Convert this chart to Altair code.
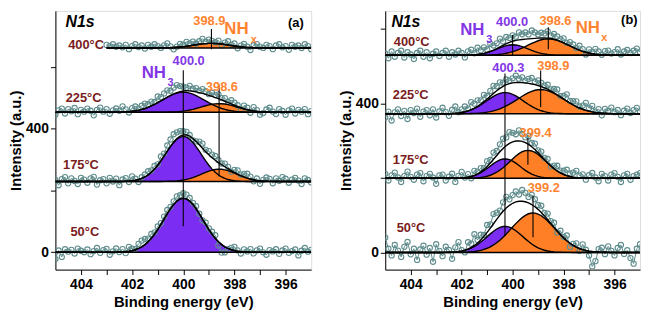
import altair as alt
import pandas as pd
import numpy as np

# ---------------- data ----------------
energy = [round(405 - 0.125 * i, 3) for i in range(81)]
specs = ["50°C", "175°C", "225°C", "400°C"]

# panel (a)
a_base = {"50°C": 0, "175°C": 229, "225°C": 453, "400°C": 661}
a_start = {"50°C": 405, "175°C": 405, "225°C": 405, "400°C": 403.0}
a_peaks = [
    ("50°C", "NH3", 400.0, 175, 0.76),
    ("175°C", "NH3", 400.0, 146, 0.70),
    ("175°C", "NHx", 398.6, 40, 0.68),
    ("225°C", "NH3", 400.0, 65, 0.82),
    ("225°C", "NHx", 398.6, 28, 0.70),
    ("400°C", "NHx", 398.9, 15, 0.70),
]
a_noise = {
    "50°C": [-22, 6, -15, 10, 2, 8, -4, 12, 5, 0,
             9, -6, 4, 14, -2, 7, 11, -8, 3, 12,
             0, 9, -5, 14, 6, 2, 15, 20, 18, 10,
             14, 6, 10, 4, 8, 12, 6, 10, 15, 12,
             16, 14, 10, 5, 8, 0, -4, 6, 4, 8,
             10, -12, -26, -18, -2, 6, 12, 3, -6, 8,
             2, 10, -4, 6, 12, 0, -8, 7, 3, 10,
             -5, 6, 12, -2, 4, 9, -10, 5, 14, 2,
             8],
    "175°C": [5, -12, 8, 14, -6, 10, 2, -8, 12, 6,
              -4, 10, 15, -10, 4, 8, -6, 12, 0, 9,
              -12, 6, 10, -3, 14, 5, -8, 4, 8, 12,
              6, 10, 3, 14, 8, 18, 22, 25, 20, 16,
              12, 10, 4, -6, 0, 10, 15, 6, 12, 10,
              14, 8, 4, 10, 6, -4, 8, 12, 3, 10,
              14, 8, -5, 6, -10, 4, 12, 8, -6, 10,
              2, 14, 9, -4, 6, 12, 3, -8, 10, 5,
              -3],
    "225°C": [-8, 6, 12, -4, 10, 3, 14, -6, 8, 2,
              12, 5, -10, 8, 15, 2, 10, -5, 6, 12,
              4, 18, 8, -3, 10, 14, 6, 12, 16, 10,
              14, 8, 20, 12, 18, 22, 15, 20, 24, 18,
              14, 10, 16, 8, 12, 6, 14, 10, 4, 12,
              8, 14, 6, 10, 2, 12, 8, 4, -6, 10,
              6, -8, 12, 4, -10, -4, 8, 14, 2, -6,
              10, 4, -8, 6, 12, -4, 8, 2, 10, -6,
              4],
    "400°C": [0, 4, -6, 8, 2, -4, 6, 0, 3, -2,
              5, -3, 8, 2, -6, 4, 10, 6, 12, 4,
              8, 2, 10, -4, 6, 12, 3, 8, -2, 10,
              4, 12, 6, 0, 8, 14, 4, -6, 2, 10,
              6, 14, 8, 12, 4, 10, 16, 6, 12, 8,
              4, 10, -4, 6, 12, 2, 8, -6, 4, 10,
              2, -8, 8, 12, 4, 0, 10, 6, -4, 8,
              12, 2, 6, -6, 10, 4, 8, 0, 12, 6,
              -4],
}
a_rules = [(400.0, 84, 589), (398.6, 245, 543), (398.9, 657, 722)]
a_bold = [
    ("400°C", 403.8, 670, "temp", 13), ("225°C", 403.9, 499, "temp", 13),
    ("175°C", 404.0, 282, "temp", 13), ("50°C", 403.85, 65, "temp", 13),
    ("398.9", 398.98, 747, "nhx", 13), ("400.0", 399.79, 620, "nh3", 13),
    ("398.6", 398.49, 536, "nhx", 13), ("(a)", 395.6, 741, "black", 13),
]
a_ital = [("N1s", 404.04, 744, "black", 16)]
a_norm = [
    ("NH", 397.92, 722, "nhx", 17), ("x", 397.24, 688, "nhx", 11),
    ("NH", 401.15, 580, "nh3", 17), ("3", 400.5, 546, "nh3", 11),
]

# panel (b)
b_base = {"50°C": 0, "175°C": 199, "225°C": 372, "400°C": 529}
b_start = {"50°C": 405, "175°C": 405, "225°C": 405, "400°C": 405}
b_peaks = [
    ("50°C", "NH3", 400.3, 70, 0.70),
    ("50°C", "NHx", 399.2, 106, 0.85),
    ("175°C", "NH3", 400.3, 52, 0.60),
    ("175°C", "NHx", 399.4, 75, 0.70),
    ("225°C", "NH3", 400.3, 57, 0.72),
    ("225°C", "NHx", 398.9, 65, 0.90),
    ("400°C", "NH3", 400.0, 28, 0.60),
    ("400°C", "NHx", 398.6, 44, 0.80),
]
b_noise = {
    "50°C": [40, 10, -8, 20, 5, -12, 15, 28, -5, 10,
             -20, 8, 18, -6, 12, -25, 22, 4, -10, 15,
             6, -18, 12, 25, 2, -6, 18, 10, 30, 8,
             14, 4, 20, 10, 26, 18, 12, 24, 30, 16,
             22, 28, 18, 30, 24, 16, 26, 20, 12, 18,
             8, 16, 6, 12, -4, 10, 2, 14, -10, 4,
             10, -6, 14, 2, -12, -40, -25, 8, 12, -5,
             16, 4, -8, 12, 20, -4, 6, -15, -30, 10,
             22],
    "175°C": [12, -6, 8, 15, 2, -10, 6, 18, 4, -4,
              10, 14, -8, 6, 12, 2, -15, 8, 10, -6,
              4, 12, -10, 6, 16, 0, 8, -5, 12, 6,
              10, 4, 14, 8, 18, 12, 20, 26, 22, 30,
              24, 18, 28, 20, 14, 22, 10, 16, 6, 12,
              4, 10, -2, 8, 14, 6, 10, 16, 8, 12,
              18, 6, 10, -4, 8, 14, 2, -8, 12, 6,
              -6, 10, 14, 4, -10, 8, 12, -4, 6, 10,
              14],
    "225°C": [-10, 6, -18, 4, 12, -6, 8, -14, 10, 2,
              14, -8, 6, 10, -4, 12, -10, 6, 16, 4,
              -6, 10, 18, 2, 8, 14, 6, 20, 12, 16,
              10, 18, 8, 14, 20, 12, 16, 10, 14, 8,
              12, 18, 10, 14, 6, 12, 16, 8, 14, 10,
              6, 12, 4, 10, 14, 2, 8, 18, 6, 10,
              14, 4, 10, 20, 8, 16, 2, 10, -6, 12,
              6, 16, 4, 10, -4, 8, 14, 2, 10, 16,
              6],
    "400°C": [4, -8, 10, -4, 6, 12, -6, 8, 2, -10,
              6, 12, -4, 8, -8, 4, 10, -2, 6, 12,
              -4, 8, 2, 12, 6, -6, 10, 14, 4, 18,
              10, 16, 8, 20, 12, 14, 22, 10, 18, 12,
              16, 10, 20, 14, 18, 12, 22, 16, 10, 14,
              12, 18, 8, 14, 10, 6, 12, 4, 10, 8,
              2, 12, 6, -6, 10, 4, 14, 8, 0, 10,
              12, 4, 8, 16, 2, 10, 14, 6, 12, 18,
              8],
}
b_rules = [(400.0, 529, 583), (398.6, 545, 604), (400.3, 44, 480),
           (398.9, 390, 488), (399.4, 235, 307), (399.2, 41, 152)]
b_bold = [
    ("400°C", 403.96, 565, "temp", 13), ("225°C", 404.0, 423, "temp", 13),
    ("175°C", 404.0, 248, "temp", 13), ("50°C", 403.99, 65, "temp", 13),
    ("400.0", 400.02, 617, "nh3", 13), ("398.6", 398.32, 622, "nhx", 13),
    ("400.3", 400.17, 495, "nh3", 13), ("398.9", 398.4, 501, "nhx", 13),
    ("399.4", 399.1, 320, "nhx", 13), ("399.2", 398.78, 173, "nhx", 13),
    ("(b)", 395.42, 624, "black", 13),
]
b_ital = [("N1s", 404.19, 617, "black", 16)]
b_norm = [
    ("NH", 401.58, 597, "nh3", 17), ("3", 400.92, 570, "nh3", 11),
    ("NH", 397.05, 602, "nhx", 17), ("x", 396.4, 575, "nhx", 11),
]

# ---------------- styling ----------------
FONT = "Liberation Sans"
PURPLE_FILL = "#7b2ef2"
ORANGE_FILL = "#ff7f27"
TEXT_COL = {"temp": "#7a1c1c", "nh3": "#8236e6", "nhx": "#ff8430", "black": "#000000"}
DOT = "#5f8c8c"


def panel(base, start, peaks, noise, rules, tbold, tital, tnorm, ydom, width, height):
    rows = []
    for spec, comp, c, h, s in peaks:
        for E in energy:
            if E > start[spec]:
                continue
            g = h * np.exp(-0.5 * ((E - c) / s) ** 2)
            rows.append(dict(spec=spec, comp=comp, E=E, base=base[spec],
                             g=g, top=base[spec] + g))
    comp_df = pd.DataFrame(rows)
    env_df = comp_df.groupby(["spec", "E"], as_index=False).agg(
        base=("base", "first"), g=("g", "sum"))
    env_df["top"] = env_df["base"] + env_df["g"]

    obs_rows = []
    for spec in specs:
        env_s = env_df[env_df.spec == spec].set_index("E")
        for i, E in enumerate(energy):
            if E > start[spec]:
                continue
            obs_rows.append(dict(spec=spec, E=E,
                                 top=env_s.loc[E, "top"] + noise[spec][i]))
    obs_df = pd.DataFrame(obs_rows)

    base_df = pd.DataFrame([dict(spec=s, E=start[s], E2=395, top=base[s]) for s in specs])
    rule_df = pd.DataFrame([dict(E=e, top=y1, top2=y2) for e, y1, y2 in rules])

    xscale = alt.Scale(domain=[405, 395], nice=False, zero=False)
    yscale = alt.Scale(domain=ydom, nice=False, zero=False)
    xaxis = alt.Axis(values=list(range(396, 405)),
                     labelExpr="datum.value % 2 == 0 ? datum.label : ''",
                     format="d", grid=False, tickSize=5, labelPadding=3,
                     titlePadding=3, labelFontSize=14, labelFontWeight="bold",
                     titleFontSize=15, titleFontWeight="bold", labelFont=FONT,
                     titleFont=FONT, domainColor="black", tickColor="black",
                     labelColor="black", titleColor="black", labelFlush=False)
    yaxis = alt.Axis(values=[0, 200, 400, 600],
                     labelExpr="datum.value == 0 || datum.value == 400 ? datum.label : ''",
                     format="d", grid=False, tickSize=5, labelPadding=2,
                     titlePadding=2, labelFontSize=14, labelFontWeight="bold",
                     titleFontSize=15, titleFontWeight="bold", labelFont=FONT,
                     titleFont=FONT, domainColor="black", tickColor="black",
                     labelColor="black", titleColor="black")

    X = lambda f="E": alt.X(f"{f}:Q", scale=xscale, axis=xaxis, title="Binding energy (eV)")
    Y = lambda f="top": alt.Y(f"{f}:Q", scale=yscale, axis=yaxis, title="Intensity (a.u.)")

    comp_base = alt.Chart(comp_df)
    area_nh3 = comp_base.transform_filter("datum.comp == 'NH3'").mark_area(
        color=PURPLE_FILL, opacity=1, clip=True).encode(
        x=X(), y=Y(), y2="base:Q", detail="spec:N")
    area_nhx = comp_base.transform_filter("datum.comp == 'NHx'").mark_area(
        color=ORANGE_FILL, opacity=1, clip=True).encode(
        x=X(), y=Y(), y2="base:Q", detail="spec:N")
    obs_line = alt.Chart(obs_df).mark_line(color=DOT, strokeWidth=1, clip=True).encode(
        x=X(), y=Y(), detail="spec:N")
    obs_pts = alt.Chart(obs_df).mark_point(color=DOT, filled=False, size=28,
                                           strokeWidth=1.1, opacity=1, clip=True).encode(
        x=X(), y=Y())
    comp_line = comp_base.mark_line(color="black", strokeWidth=1.4, clip=True).encode(
        x=X(), y=Y(), detail=["spec:N", "comp:N"])
    env_line = alt.Chart(env_df).mark_line(color="black", strokeWidth=1.4, clip=True).encode(
        x=X(), y=Y(), detail="spec:N")
    base_rule = alt.Chart(base_df).mark_rule(color="black", strokeWidth=1.6, clip=True).encode(
        x=X(), x2="E2:Q", y=Y())
    vrules = alt.Chart(rule_df).mark_rule(color="black", strokeWidth=1.1).encode(
        x=X(), y=Y(), y2="top2:Q")

    def text_layer(items, weight, style):
        df = pd.DataFrame([dict(t=t, E=e, top=y, col=TEXT_COL[c], fs=fs)
                           for t, e, y, c, fs in items])
        return alt.Chart(df).mark_text(font=FONT, fontWeight=weight, fontStyle=style,
                                       baseline="middle", align="center").encode(
            x=X(), y=Y(), text="t:N",
            color=alt.Color("col:N", scale=None),
            size=alt.Size("fs:Q", scale=None))

    layers = [area_nh3, area_nhx, obs_line, obs_pts, comp_line, env_line, base_rule,
              vrules, text_layer(tbold, "bold", "normal"),
              text_layer(tital, "bold", "italic"),
              text_layer(tnorm, "bold", "normal")]
    return alt.layer(*layers).properties(width=width, height=height)


pa = panel(a_base, a_start, a_peaks, a_noise, a_rules, a_bold, a_ital, a_norm,
           [-56, 781], 259, 262)
pb = panel(b_base, b_start, b_peaks, b_noise, b_rules, b_bold, b_ital, b_norm,
           [-46, 648], 258, 262)

chart = alt.hconcat(pa, pb, spacing=26).properties(
    padding={"left": 0, "top": 0, "right": 0, "bottom": 0}
).configure_view(stroke="black", strokeWidth=1.5).configure(font=FONT, background="white")

chart.save("out.html", embed_options={"renderer": "svg", "actions": False})
